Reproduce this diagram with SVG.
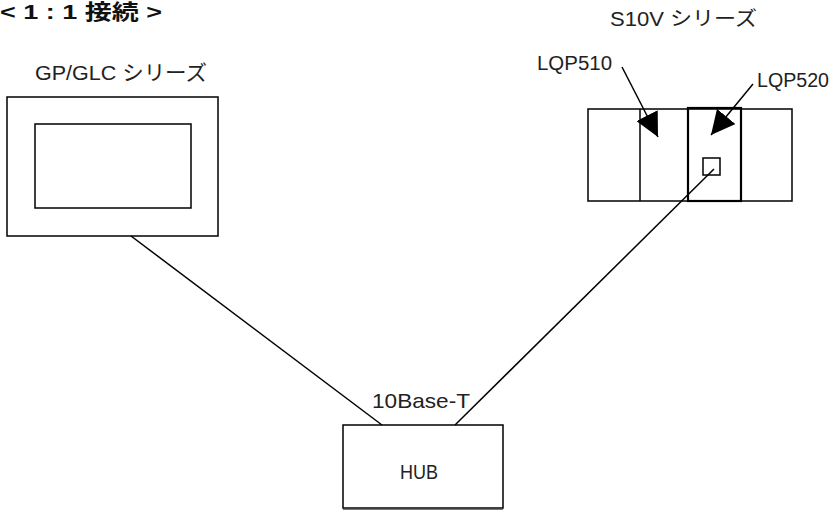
<svg xmlns="http://www.w3.org/2000/svg" width="829" height="512" viewBox="0 0 829 512">
  <style>
    .box { fill: #fff; stroke: #000; stroke-width: 1.5; }
    .thick { fill: none; stroke: #000; stroke-width: 2.2; }
    .wire { fill: none; stroke: #000; stroke-width: 1.5; }
    .lbl { font-family: "Liberation Sans Narrow", "Liberation Sans", "Noto Sans CJK JP", sans-serif; fill: #222; }
    .title { font-family: "Liberation Sans", "Noto Sans CJK JP", sans-serif; font-weight: bold; font-size: 21px; fill: #111; }
  </style>
  <defs>
    <marker id="bigArrow" viewBox="0 0 24 24" refX="24" refY="12" markerWidth="24" markerHeight="24" markerUnits="userSpaceOnUse" orient="auto">
      <path d="M0,0 L24,12 L0,24 Z" fill="#000"/>
    </marker>
  </defs>

  <!-- heading -->
  <text class="title" x="0" y="19" textLength="162" lengthAdjust="spacingAndGlyphs">&lt; 1 : 1 接続 &gt;</text>

  <!-- GP/GLC display unit -->
  <g id="gp">
    <text class="lbl" x="35" y="80" font-size="21" textLength="172" lengthAdjust="spacingAndGlyphs">GP/GLC シリーズ</text>
    <rect class="box" x="7" y="97" width="211" height="139"/>
    <rect class="box" x="35" y="124" width="156" height="84"/>
  </g>

  <!-- S10V controller rack -->
  <g id="s10v">
    <text class="lbl" x="610" y="26" font-size="20" textLength="147" lengthAdjust="spacingAndGlyphs">S10V シリーズ</text>
    <rect class="box" x="588" y="109" width="204" height="92"/>
    <line class="wire" x1="640" y1="109" x2="640" y2="201"/>
    <rect class="thick" x="688" y="108" width="53" height="93"/>
    <rect x="703" y="158" width="17" height="17" fill="none" stroke="#000" stroke-width="1.5"/>
  </g>

  <g id="lqp510">
    <text class="lbl" x="537" y="70" font-size="20" textLength="75" lengthAdjust="spacingAndGlyphs">LQP510</text>
  </g>

  <g id="lqp520">
    <text class="lbl" x="757" y="87" font-size="20" textLength="72" lengthAdjust="spacingAndGlyphs">LQP520</text>
  </g>

  <!-- hub -->
  <g id="hub">
    <text class="lbl" x="421" y="408" font-size="21" text-anchor="middle" textLength="98" lengthAdjust="spacingAndGlyphs">10Base-T</text>
    <rect class="box" x="343" y="425" width="160" height="83"/>
    <line x1="343" y1="509.5" x2="503" y2="509.5" stroke="#777" stroke-width="1"/>
    <text class="lbl" x="419" y="479" font-size="21" text-anchor="middle" textLength="38" lengthAdjust="spacingAndGlyphs">HUB</text>
  </g>

  <!-- connectors, drawn over the units -->
  <g id="connectors">
    <line class="wire" x1="131" y1="236" x2="382" y2="425"/>
    <line class="wire" x1="714" y1="169" x2="455" y2="425"/>
    <line class="wire" x1="622" y1="67" x2="658" y2="137" marker-end="url(#bigArrow)"/>
    <line class="wire" x1="753" y1="84" x2="711" y2="135" marker-end="url(#bigArrow)"/>
  </g>
</svg>
